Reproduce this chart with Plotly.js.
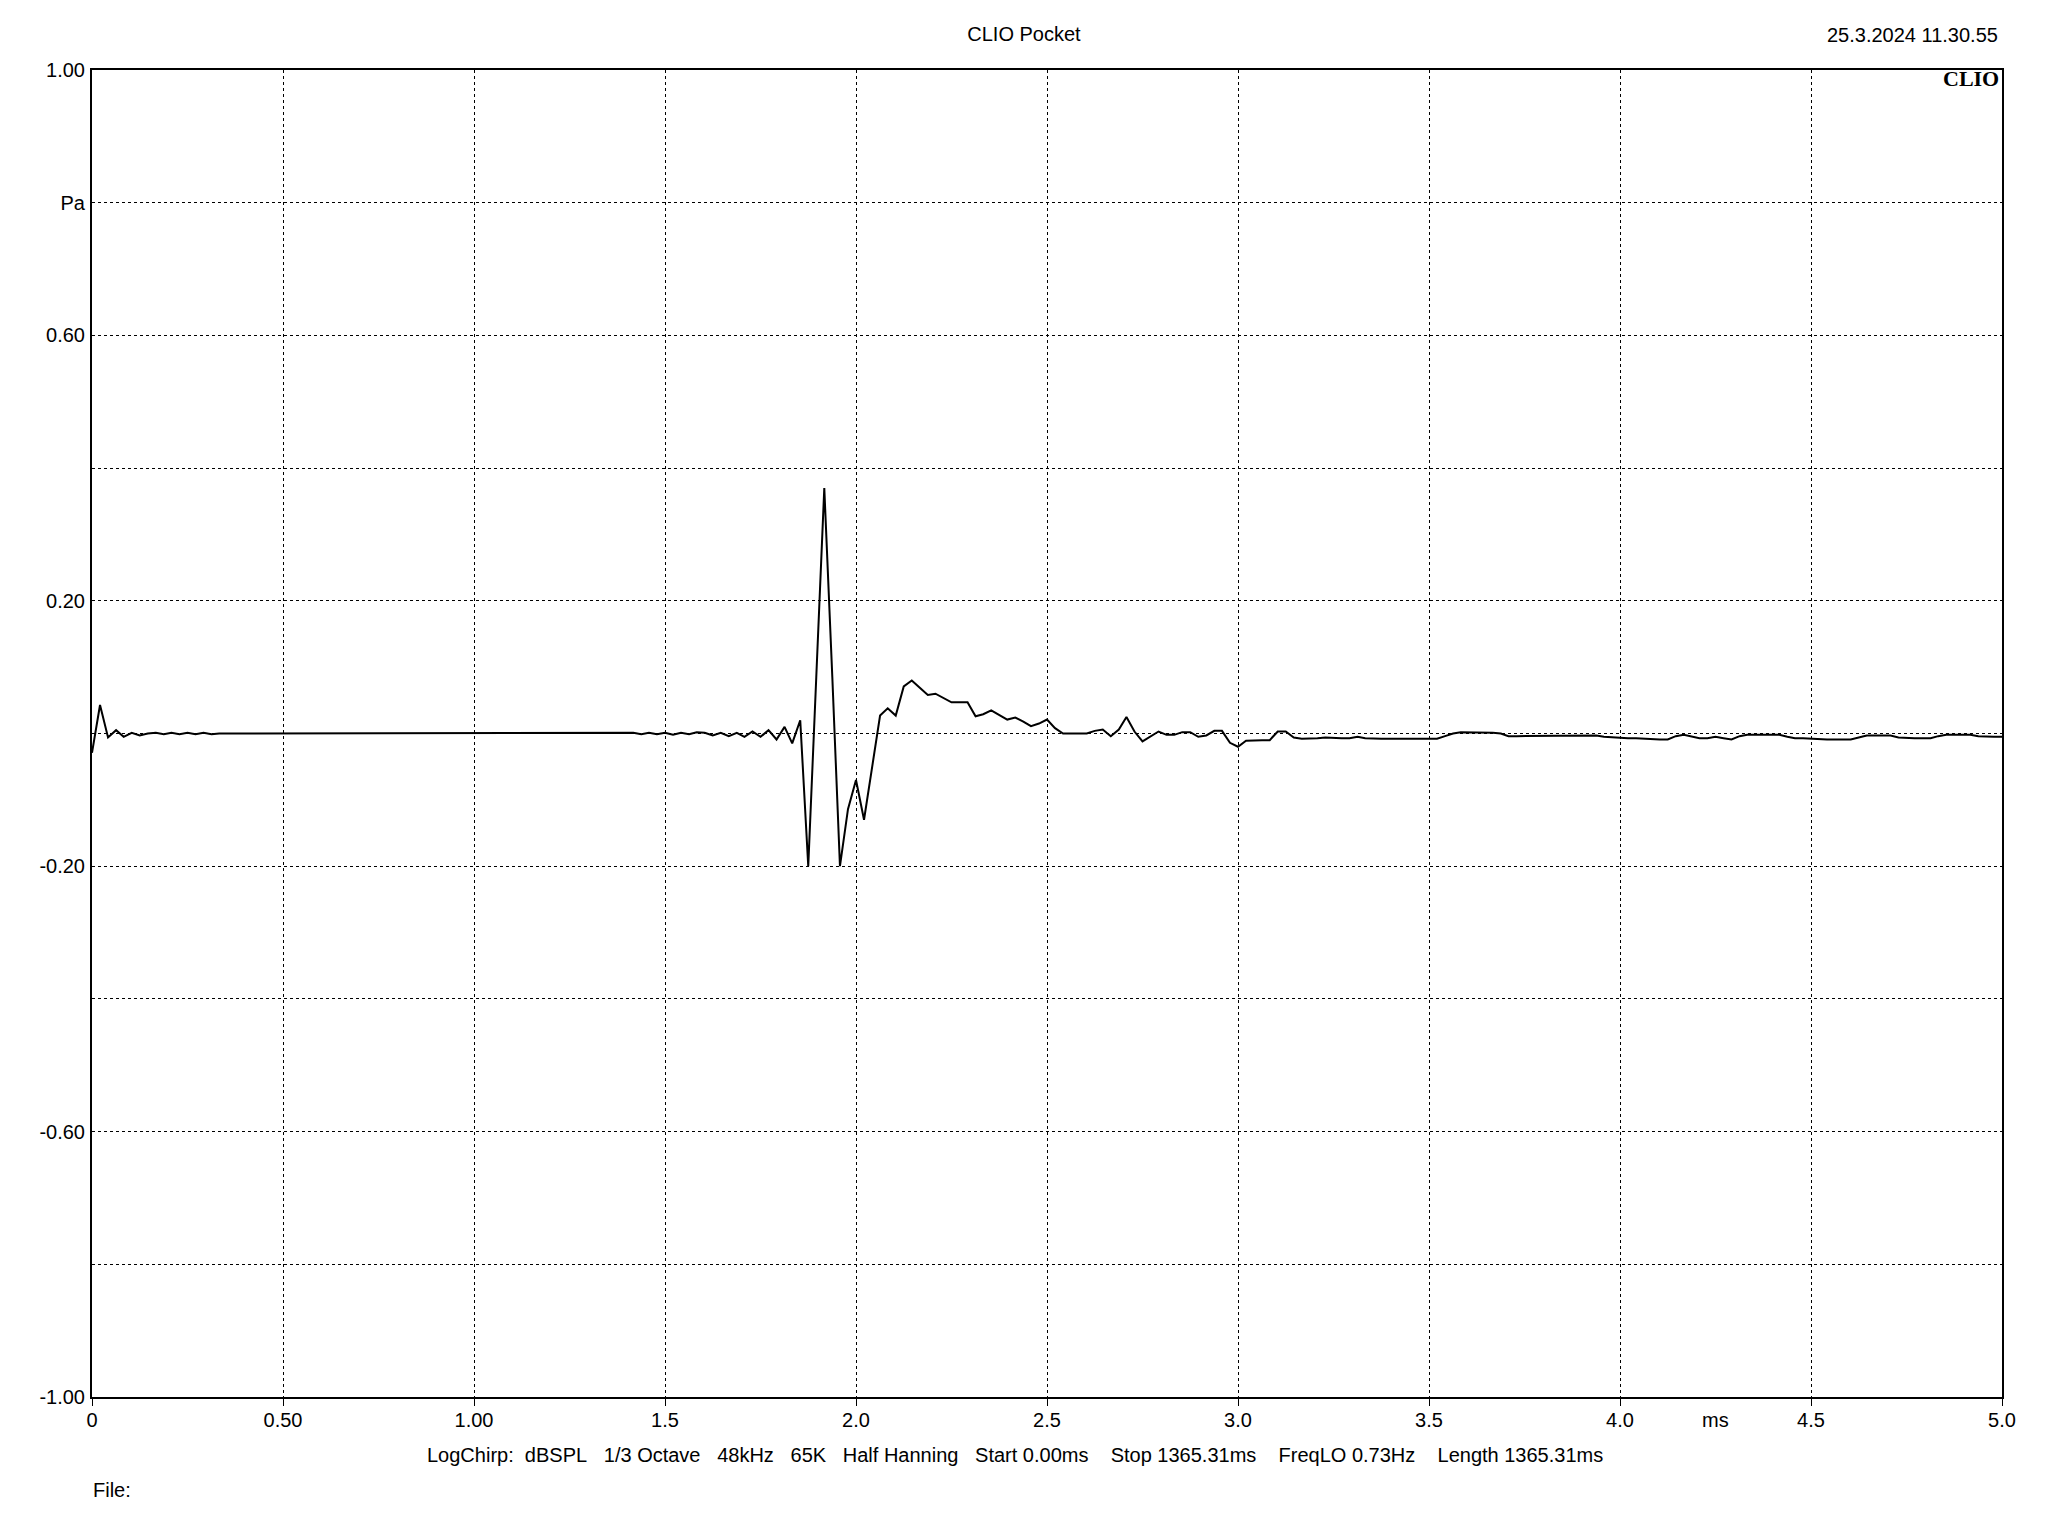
<!DOCTYPE html>
<html>
<head>
<meta charset="utf-8">
<script src="https://cdn.plot.ly/plotly-3.0.1.min.js"></script>
<style>html,body{margin:0;padding:0;background:#fff;}#chart{width:2048px;height:1536px;}</style>
</head>
<body>
<div id="chart"></div>
<script>
// Impulse response, time in ms, pressure in Pa
const time_ms = [
  0.000,0.021,0.042,0.063,0.083,0.104,0.125,0.146,0.167,0.188,0.208,0.229,0.250,0.271,0.292,0.313,0.333,
  1.396,
  1.417,1.438,1.458,1.479,1.500,1.521,1.542,1.563,1.583,1.604,1.625,1.646,1.667,1.688,1.708,1.729,
  1.750,1.771,1.792,1.813,1.833,1.854,1.875,1.896,1.917,1.938,1.958,1.979,2.000,2.021,2.042,2.063,
  2.083,2.104,2.125,2.146,2.167,2.188,2.208,2.229,2.250,2.271,2.292,2.313,2.333,2.354,2.375,2.396,
  2.417,2.438,2.458,2.479,2.500,2.521,2.542,2.563,2.583,2.604,2.625,2.646,2.667,2.688,2.708,2.729,
  2.750,2.771,2.792,2.813,2.833,2.854,2.875,2.896,2.917,2.938,2.958,2.979,3.000,3.021,3.042,3.063,
  3.083,3.104,3.125,3.146,3.167,3.188,3.208,3.229,3.250,3.271,3.292,3.313,3.333,3.354,3.375,3.396,
  3.417,3.438,3.458,3.479,3.500,3.521,3.542,3.563,3.583,3.604,3.625,3.646,3.667,3.688,3.708,3.729,
  3.750,3.771,3.792,3.813,3.833,3.854,3.875,3.896,3.917,3.938,3.958,3.979,4.000,4.021,4.042,4.063,
  4.083,4.104,4.125,4.146,4.167,4.188,4.208,4.229,4.250,4.271,4.292,4.313,4.333,4.354,4.375,4.396,
  4.417,4.438,4.458,4.479,4.500,4.521,4.542,4.563,4.583,4.604,4.625,4.646,4.667,4.688,4.708,4.729,
  4.750,4.771,4.792,4.813,4.833,4.854,4.875,4.896,4.917,4.938,4.958,4.979,5.000
];
const pressure_pa = [
  -0.029,0.043,-0.006,0.005,-0.005,0.001,-0.003,0.000,0.001,-0.001,0.001,-0.001,0.001,-0.001,0.001,-0.001,0.000,
  0.000,
  0.001,-0.001,0.001,-0.001,0.001,-0.002,0.001,-0.001,0.002,0.001,-0.003,0.001,-0.004,0.001,-0.005,0.003,
  -0.005,0.005,-0.009,0.010,-0.015,0.020,-0.200,0.085,0.370,0.085,-0.200,-0.114,-0.070,-0.130,-0.052,0.027,
  0.038,0.027,0.071,0.080,0.069,0.058,0.060,0.053,0.047,0.047,0.047,0.026,0.029,0.035,0.028,0.021,
  0.024,0.018,0.011,0.015,0.021,0.008,0.000,0.000,0.000,0.000,0.004,0.006,-0.004,0.006,0.025,0.003,
  -0.012,-0.004,0.003,-0.002,-0.002,0.002,0.002,-0.005,-0.003,0.004,0.004,-0.014,-0.020,-0.011,-0.010,-0.010,
  -0.010,0.003,0.003,-0.006,-0.008,-0.008,-0.007,-0.006,-0.007,-0.007,-0.007,-0.005,-0.007,-0.008,-0.008,-0.008,
  -0.008,-0.008,-0.008,-0.008,-0.008,-0.008,-0.004,0.000,0.002,0.002,0.002,0.001,0.001,0.000,-0.004,-0.004,
  -0.004,-0.004,-0.004,-0.004,-0.003,-0.003,-0.003,-0.003,-0.003,-0.003,-0.005,-0.006,-0.007,-0.007,-0.007,-0.008,
  -0.009,-0.009,-0.009,-0.004,-0.002,-0.005,-0.007,-0.007,-0.005,-0.007,-0.009,-0.004,-0.002,-0.002,-0.002,-0.002,
  -0.002,-0.005,-0.007,-0.007,-0.008,-0.009,-0.009,-0.009,-0.009,-0.009,-0.006,-0.003,-0.003,-0.003,-0.003,-0.006,
  -0.007,-0.007,-0.007,-0.007,-0.004,-0.002,-0.002,-0.002,-0.002,-0.004,-0.005,-0.005,-0.005
];

const x_tickvals = [0,0.5,1.0,1.5,2.0,2.5,3.0,3.5,4.0,4.5,5.0];
const x_ticktext = ['0','0.50','1.00','1.5','2.0','2.5','3.0','3.5','4.0','4.5','5.0'];
const y_tickvals = [-1.0,-0.8,-0.6,-0.4,-0.2,0.0,0.2,0.4,0.6,0.8,1.0];
const y_ticktext = ['-1.00','','-0.60','','-0.20','','0.20','','0.60','Pa','1.00'];

const titleText = 'CLIO Pocket';
const dateText = '25.3.2024 11.30.55';
const logoText = 'CLIO';
const xUnit = 'ms';
const infoText = 'LogChirp:\u00a0\u00a0dBSPL\u00a0\u00a0\u00a01/3 Octave\u00a0\u00a0\u00a048kHz\u00a0\u00a0\u00a065K\u00a0\u00a0\u00a0Half Hanning\u00a0\u00a0\u00a0Start 0.00ms\u00a0\u00a0\u00a0\u00a0Stop 1365.31ms\u00a0\u00a0\u00a0\u00a0FreqLO 0.73Hz\u00a0\u00a0\u00a0\u00a0Length 1365.31ms';
const fileText = 'File:';

const FONT = '"Liberation Sans", Arial, sans-serif';
const fnt = {family: FONT, size: 20, color: '#000'};

const trace = {
  x: time_ms, y: pressure_pa, type: 'scatter', mode: 'lines',
  line: {color: '#000', width: 2}, hoverinfo: 'skip'
};

const axisCommon = {
  showgrid: true, gridcolor: '#000', gridwidth: 1, griddash: '3px,3px',
  showline: true, mirror: true, linecolor: '#000', linewidth: 2,
  zeroline: false, tickfont: fnt, tickmode: 'array', fixedrange: true
};

const layout = {
  width: 2048, height: 1536,
  margin: {l: 92, r: 46, t: 70, b: 139, pad: 0},
  paper_bgcolor: '#fff', plot_bgcolor: '#fff',
  showlegend: false,
  title: {text: titleText, font: fnt, x: 0.5, xref: 'container', xanchor: 'center',
          y: 1 - 34/1536, yref: 'container', yanchor: 'middle'},
  xaxis: Object.assign({}, axisCommon, {
    range: [0, 5], tickvals: x_tickvals, ticktext: x_ticktext,
    ticks: 'outside', ticklen: 7, tickwidth: 1, tickcolor: '#000', ticklabelstandoff: -3
  }),
  yaxis: Object.assign({}, axisCommon, {
    range: [-1, 1], tickvals: y_tickvals, ticktext: y_ticktext,
    ticks: '', ticklabelstandoff: 1
  }),
  annotations: [
    {text: dateText, xref: 'paper', yref: 'paper', x: 1, xshift: -2, y: (1397-35)/1327,
     xanchor: 'right', yanchor: 'middle', showarrow: false, font: fnt},
    {text: '<b>' + logoText + '</b>', xref: 'paper', yref: 'paper', x: 1, xshift: -1, y: (1397-78)/1327,
     xanchor: 'right', yanchor: 'middle', showarrow: false,
     font: {family: '"Liberation Serif", "Times New Roman", serif', size: 22, color: '#000'}},
    {text: xUnit, xref: 'x', yref: 'paper', x: 4.25, y: (1397-1420)/1327,
     xanchor: 'center', yanchor: 'middle', showarrow: false, font: fnt},
    {text: infoText, xref: 'paper', yref: 'paper', x: (425-92)/1910, y: (1397-1455)/1327,
     xanchor: 'left', yanchor: 'middle', showarrow: false, font: fnt},
    {text: fileText, xref: 'paper', yref: 'paper', x: 0, xshift: -1, y: (1397-1490)/1327,
     xanchor: 'left', yanchor: 'middle', showarrow: false, font: fnt}
  ]
};

Plotly.newPlot('chart', [trace], layout, {staticPlot: true, displayModeBar: false});
</script>
</body>
</html>
